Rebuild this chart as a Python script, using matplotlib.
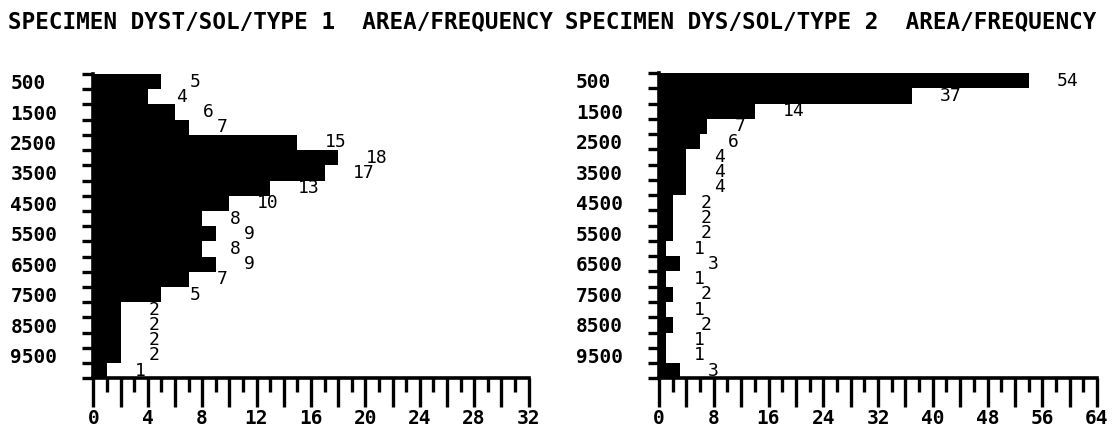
import matplotlib
matplotlib.use("Agg")
import matplotlib.pyplot as plt
import numpy as np

# ---- data ----
bin_centers = [500, 1000, 1500, 2000, 2500, 3000, 3500, 4000, 4500, 5000,
               5500, 6000, 6500, 7000, 7500, 8000, 8500, 9000, 9500, 10000]
freq_type1 = [5, 4, 6, 7, 15, 18, 17, 13, 10, 8, 9, 8, 9, 7, 5, 2, 2, 2, 2, 1]
freq_type2 = [54, 37, 14, 7, 6, 4, 4, 4, 2, 2, 2, 1, 3, 1, 2, 1, 2, 1, 1, 3]
area_labels = [500, 1500, 2500, 3500, 4500, 5500, 6500, 7500, 8500, 9500]
title1 = "SPECIMEN DYST/SOL/TYPE 1  AREA/FREQUENCY"
title2 = "SPECIMEN DYS/SOL/TYPE 2  AREA/FREQUENCY"
xmax1, xstep1_label, xstep1_major, xstep1_minor = 32, 4, 2, 1
xmax2, xstep2_label, xstep2_major, xstep2_minor = 64, 8, 4, 2

W, H = 1117, 426
fig = plt.figure(figsize=(W / 100, H / 100), dpi=100)
fig.patch.set_facecolor("white")

MONO = "DejaVu Sans Mono"
PX = 72 / 100  # points per pixel


def make_axes(x0, x1, top, bottom):
    return fig.add_axes([x0 / W, (H - bottom) / H, (x1 - x0) / W, (bottom - top) / H])


def draw(ax, values, xmax, lab_step, major_step, minor_step):
    ax.barh(bin_centers, values, height=500, color="black", linewidth=0)
    ax.set_ylim(10250, 250)
    ax.set_xlim(0, xmax)
    for s in ["top", "right"]:
        ax.spines[s].set_visible(False)
    for s in ["left", "bottom"]:
        ax.spines[s].set_linewidth(2.6)
        ax.spines[s].set_color("black")
    # y ticks
    ax.set_yticks(area_labels)
    ax.set_yticklabels([str(v) for v in area_labels], fontfamily=MONO,
                       fontweight="bold", fontsize=14)
    ax.set_yticks(np.arange(250, 10251, 500), minor=True)
    ax.tick_params(axis="y", which="major", length=0, pad=83 * PX)
    ax.tick_params(axis="y", which="minor", length=11 * PX, width=2.4)
    for lab in ax.get_yticklabels():
        lab.set_ha("left")
    # x ticks
    majors = np.arange(0, xmax + 0.1, major_step)
    ax.set_xticks(majors)
    ax.set_xticklabels([str(int(v)) if v % lab_step == 0 else "" for v in majors],
                       fontfamily=MONO, fontweight="bold", fontsize=14)
    ax.set_xticks(np.arange(0, xmax + 0.1, minor_step), minor=True)
    ax.tick_params(axis="x", which="major", length=29 * PX, width=2.4, pad=1)
    ax.tick_params(axis="x", which="minor", length=14 * PX, width=2.4)
    # value labels
    for y, v in zip(bin_centers, values):
        ax.annotate(str(v), xy=(v, y), xytext=(28 * PX, 0), textcoords="offset points",
                    ha="left", va="center", fontfamily=MONO, fontsize=13,
                    color="black", annotation_clip=False)


ax1 = make_axes(93.3, 528.5, 74, 378.3)
draw(ax1, freq_type1, xmax1, xstep1_label, xstep1_major, xstep1_minor)
ax2 = make_axes(659, 1097, 73, 378.3)
draw(ax2, freq_type2, xmax2, xstep2_label, xstep2_major, xstep2_minor)

fig.text(8 / W, 1 - 21.5 / H, title1, ha="left", va="center", fontfamily=MONO,
         fontweight="bold", fontsize=16.3)
fig.text(565 / W, 1 - 21.5 / H, title2, ha="left", va="center", fontfamily=MONO,
         fontweight="bold", fontsize=16.3)

fig.savefig("out.png", dpi=100, facecolor="white")
